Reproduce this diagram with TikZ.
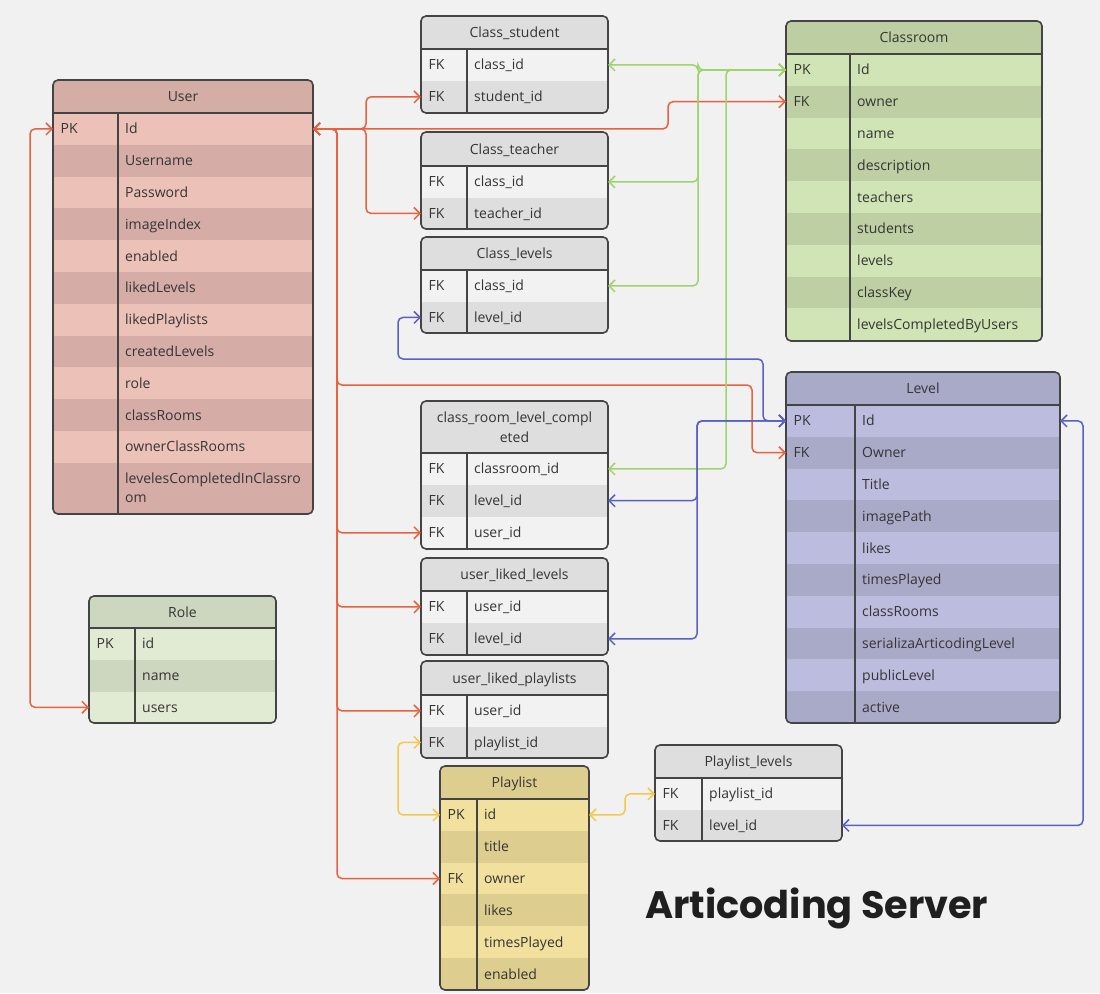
\documentclass[tikz,border=0pt]{standalone}
\usepackage{fontspec}
\setmainfont{Open Sans}
\newfontfamily\titlefont{Poppins}
\usetikzlibrary{arrows.meta}

\definecolor{cBg}{HTML}{F1F1F1}
\definecolor{cTxt}{HTML}{353535}
\definecolor{cBorder}{HTML}{444444}
\definecolor{uH}{HTML}{D4ADA5}\definecolor{uL}{HTML}{EBC1B8}\definecolor{uD}{HTML}{D5ADA6}
\definecolor{gH}{HTML}{DEDEDE}\definecolor{gL}{HTML}{F2F2F2}\definecolor{gD}{HTML}{DEDEDE}
\definecolor{cH}{HTML}{BDCEA3}\definecolor{cL}{HTML}{D0E4B5}\definecolor{cD}{HTML}{BDCFA3}
\definecolor{lH}{HTML}{A9AAC8}\definecolor{lL}{HTML}{BCBDDE}\definecolor{lD}{HTML}{A9AAC8}
\definecolor{rH}{HTML}{CDD7C0}\definecolor{rL}{HTML}{E1EAD3}\definecolor{rD}{HTML}{CDD7C0}
\definecolor{pH}{HTML}{DDCE8F}\definecolor{pL}{HTML}{F2E09E}\definecolor{pD}{HTML}{DDCD8F}
\definecolor{cRed}{HTML}{E8623F}
\definecolor{cGreen}{HTML}{9FD36B}
\definecolor{cBlue}{HTML}{5A60C6}
\definecolor{cYellow}{HTML}{F3C94A}

\newcommand\twoln[2]{\rlap{\raisebox{9.5pt}[0pt][0pt]{#1}}\raisebox{-9.5pt}[0pt][0pt]{#2}}
\newcommand\twolnc[2]{\makebox[0pt]{\raisebox{10pt}[0pt][0pt]{#1}}\makebox[0pt]{\raisebox{-10pt}[0pt][0pt]{#2}}}
\def\rowh{31.8}

\tikzset{
  txtbase/.style={inner sep=0pt, text height=10pt, text depth=0pt, text=cTxt, font=\fontsize{14}{17}\selectfont},
  keytxt/.style={txtbase, anchor=west},
  fldtxt/.style={txtbase, anchor=west},
  hdtxt/.style={txtbase, anchor=center},
  tbline/.style={draw=cBorder, line width=1.6pt},
  conn/.style={line width=1.5pt, rounded corners=5pt, >={Straight Barb[length=6pt,width=12pt]}, <->},
  redc/.style={conn, draw=cRed},
  greenc/.style={conn, draw=cGreen},
  bluec/.style={conn, draw=cBlue},
  yellowc/.style={conn, draw=cYellow},
}

% #1 id, #2 title, (x1,x2,xdiv,ytop,yhead,ybot), #9 rows
\def\ertable#1#2(#3,#4,#5,#6,#7,#8)#9{%
  \begin{scope}
    \clip[rounded corners=5pt] (#3,#6) rectangle (#4,#8);
    \fill[tbH] (#3,#6) rectangle (#4,#7);
    \fill[tbL] (#3,#7) rectangle (#4,#8);
    \foreach \kk/\ff [count=\i] in {#9} {
      \pgfmathsetmacro\yy{#7+(\i-1)*\rowh}
      \pgfmathsetmacro\yb{ifthenelse(\yy+1.7*\rowh>#8,#8,\yy+\rowh)}
      \ifodd\i\relax\else \fill[tbD] (#3,\yy) rectangle (#4,\yb);\fi
    }
  \end{scope}
  \foreach \kk/\ff [count=\i] in {#9} {
    \pgfmathsetmacro\yy{#7+(\i-1)*\rowh}
    \pgfmathsetmacro\yb{ifthenelse(\yy+1.7*\rowh>#8,#8,\yy+\rowh)}
    \pgfmathsetmacro\ym{(\yy+\yb)/2}
    \coordinate (#1-\i-w) at (#3,\ym);
    \coordinate (#1-\i-e) at (#4,\ym);
    \node[keytxt] (#1-\i-k) at (#3+7.5,\ym) {\kk};
    \node[fldtxt] (#1-\i-f) at (#5+7,\ym) {\ff};
  }
  \draw[tbline, rounded corners=5pt] (#3,#6) rectangle (#4,#8);
  \draw[tbline, line width=2.2pt] (#3,#7) -- (#4,#7);
  \draw[tbline] (#5,#7) -- (#5,#8);
  \node[hdtxt] (#1) at ({(#3+#4)/2},{(#6+#7)/2}) {#2};
}
\newcommand\usepal[1]{\colorlet{tbH}{#1H}\colorlet{tbL}{#1L}\colorlet{tbD}{#1D}}

\begin{document}
\begin{tikzpicture}[x=1pt,y=-1pt]
\useasboundingbox (0,0) rectangle (1100,993);
\fill[cBg] (0,0) rectangle (1100,993);

\usepal{u}
\ertable{User}{User}(53,313,118,80,113,514){PK/Id, /Username, /Password, /imageIndex, /enabled, /likedLevels, /likedPlaylists, /createdLevels, /role, /classRooms, /ownerClassRooms, /\twoln{levelesCompletedInClassro}{om}}

\usepal{r}
\ertable{Role}{Role}(89,276,135,596,628,723){PK/id, /name, /users}

\usepal{g}
\ertable{Cs}{Class\_student}(421,608,467,16,49,113){FK/class\_id, FK/student\_id}
\ertable{Ct}{Class\_teacher}(421,608,467,132,166,229){FK/class\_id, FK/teacher\_id}
\ertable{Cl}{Class\_levels}(421,608,467,237,270,333){FK/class\_id, FK/level\_id}
\ertable{Crlc}{\twolnc{class\_room\_level\_compl}{eted}}(421,608,467,401,453,549){FK/classroom\_id, FK/level\_id, FK/user\_id}
\ertable{Ull}{user\_liked\_levels}(421,608,467,558,591,655){FK/user\_id, FK/level\_id}
\ertable{Ulp}{user\_liked\_playlists}(421,608,467,661,695,758){FK/user\_id, FK/playlist\_id}
\ertable{Pll}{Playlist\_levels}(655,842,702,745,778,841){FK/playlist\_id, FK/level\_id}

\usepal{p}
\ertable{Pls}{Playlist}(440,589,477,766,799,990){PK/id, /title, FK/owner, /likes, /timesPlayed, /enabled}

\usepal{c}
\ertable{Cr}{Classroom}(786,1042,850,21,54,341){PK/Id, FK/owner, /name, /description, /teachers, /students, /levels, /classKey, /levelsCompletedByUsers}

\usepal{l}
\ertable{Lv}{Level}(786,1060,855,372,405,723){PK/Id, FK/Owner, /Title, /imagePath, /likes, /timesPlayed, /classRooms, /serializaArticodingLevel, /publicLevel, /active}

% routing guides
\coordinate (rA) at (366,0);
\coordinate (rB) at (337,0);
\coordinate (rC) at (668,0);
\coordinate (rD) at (752,0);
\coordinate (rE) at (30,0);
\coordinate (rY) at (0,385);
\coordinate (gA) at (698,0);
\coordinate (gB) at (726,0);
\coordinate (bA) at (763,0);
\coordinate (bB) at (398,0);
\coordinate (bC) at (697,0);
\coordinate (bD) at (1083,0);
\coordinate (bY) at (0,359);
\coordinate (yA) at (398,0);
\coordinate (yB) at (625,0);

% red: User.Id
\draw[redc] (User-1-e) -- (User-1-e -| rA) |- (Cs-2-w);
\draw[redc] (User-1-e) -- (User-1-e -| rA) |- (Ct-2-w);
\draw[redc] (User-1-e) -- (User-1-e -| rC) |- (Cr-2-w);
\draw[redc] (User-1-e) -- (User-1-e -| rB) -- (rB |- rY) -- (rY -| rD) |- (Lv-2-w);
\draw[redc] (User-1-e) -- (User-1-e -| rB) |- (Crlc-3-w);
\draw[redc] (User-1-e) -- (User-1-e -| rB) |- (Ull-1-w);
\draw[redc] (User-1-e) -- (User-1-e -| rB) |- (Ulp-1-w);
\draw[redc] (User-1-e) -- (User-1-e -| rB) |- (Pls-3-w);
\draw[redc] (User-1-w) -- (User-1-w -| rE) |- (Role-3-w);

% green: Classroom.Id
\draw[greenc] (Cr-1-w) -- (Cr-1-w -| gA) |- (Cs-1-e);
\draw[greenc] (Cr-1-w) -- (Cr-1-w -| gA) |- (Ct-1-e);
\draw[greenc] (Cr-1-w) -- (Cr-1-w -| gA) |- (Cl-1-e);
\draw[greenc] (Cr-1-w) -- (Cr-1-w -| gB) |- (Crlc-1-e);

% blue: Level.Id
\draw[bluec] (Lv-1-w) -- (Lv-1-w -| bA) -- (bA |- bY) -- (bY -| bB) |- (Cl-2-w);
\draw[bluec] (Lv-1-w) -- (Lv-1-w -| bC) |- (Crlc-2-e);
\draw[bluec] (Lv-1-w) -- (Lv-1-w -| bC) |- (Ull-2-e);
\draw[bluec] (Lv-1-e) -- (Lv-1-e -| bD) |- (Pll-2-e);

% yellow: Playlist.id
\draw[yellowc] (Pls-1-w) -- (Pls-1-w -| yA) |- (Ulp-2-w);
\draw[yellowc] (Pls-1-e) -- (Pls-1-e -| yB) |- (Pll-1-w);

\node[anchor=base west, inner sep=0pt, text=black!88] (title) at (645,918)
  {\resizebox{343pt}{!}{\titlefont\bfseries Articoding Server}};
\end{tikzpicture}
\end{document}
